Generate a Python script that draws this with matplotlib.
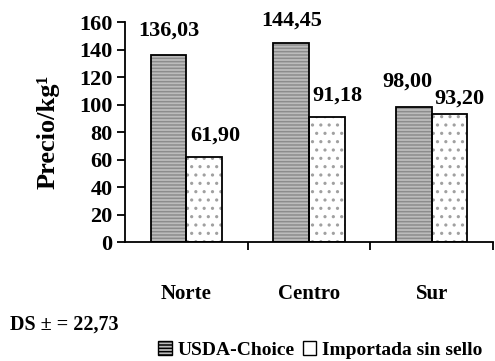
import numpy as np
import matplotlib.pyplot as plt
from matplotlib.patches import Patch

regions = ["Norte", "Centro", "Sur"]
usda_choice = [136.03, 144.45, 98.00]
importada = [61.90, 91.18, 93.20]
y_ticks = [0, 20, 40, 60, 80, 100, 120, 140, 160]
ds_text = "DS \u00b1 = 22,73"

plt.rcParams["font.family"] = ["Liberation Serif", "DejaVu Serif"]
plt.rcParams["font.weight"] = "bold"
plt.rcParams["hatch.linewidth"] = 1.1

USDA_FACE, USDA_HATCH = "#bcbcbc", "#8c8c8c"
IMP_FACE, IMP_HATCH = "white", "#a0a0a0"


def fmt(v):
    return f"{v:.2f}".replace(".", ",")


fig = plt.figure(figsize=(4.95, 3.61), dpi=100)
ax = fig.add_axes([0.2525, 0.3296, 0.7435, 0.6094])

x = np.arange(len(regions))
w = 0.29
# fill + hatch first, then a black outline on top
ax.bar(x - w / 2, usda_choice, w, color=USDA_FACE, edgecolor=USDA_HATCH,
       linewidth=0, hatch="-----")
ax.bar(x + w / 2, importada, w, color=IMP_FACE, edgecolor=IMP_HATCH,
       linewidth=0, hatch="..")
ax.bar(x - w / 2, usda_choice, w, fill=False, edgecolor="black", linewidth=1.3)
ax.bar(x + w / 2, importada, w, fill=False, edgecolor="black", linewidth=1.3)

# label nudges (points) to mimic the original placement
dx1 = [0, 0, -5]
dx2 = [8, 8, 7]
dy1 = [10, 9, 11]
dy2 = [8, 8, 4]
for i in range(len(regions)):
    ax.annotate(fmt(usda_choice[i]), (x[i] - w / 2, usda_choice[i]),
                xytext=(dx1[i], dy1[i]), textcoords="offset points",
                ha="center", va="bottom", fontsize=16, fontweight="bold")
    ax.annotate(fmt(importada[i]), (x[i] + w / 2, importada[i]),
                xytext=(dx2[i], dy2[i]), textcoords="offset points",
                ha="center", va="bottom", fontsize=16, fontweight="bold")

ax.set_xlim(-0.5, 2.5)
ax.set_ylim(0, 160)
ax.set_yticks(y_ticks)
ax.tick_params(axis="y", labelsize=16, direction="out", length=6, width=1.3,
               pad=3)
ax.set_xticks(x)
ax.set_xticklabels(regions, fontsize=15, fontweight="bold")
ax.tick_params(axis="x", which="major", length=0, pad=30)
ax.set_xticks([0.5, 1.5, 2.5], minor=True)
ax.tick_params(axis="x", which="minor", direction="out", length=6, width=1.3)
for s in ["top", "right"]:
    ax.spines[s].set_visible(False)
for s in ["left", "bottom"]:
    ax.spines[s].set_linewidth(1.3)

ax.set_ylabel("Precio/kg\u00b9", fontsize=19, fontweight="bold", labelpad=14)

fig.text(0.02, 0.10, ds_text, fontsize=14.5, fontweight="bold",
         ha="left", va="center")

handles = [Patch(facecolor=USDA_FACE, edgecolor="black", hatch="-----"),
           Patch(facecolor="white", edgecolor="black")]
fig.legend(handles, ["USDA-Choice", "Importada sin sello"],
           loc="center right", bbox_to_anchor=(1.01, 0.03), ncol=2,
           frameon=False, handlelength=0.7, handleheight=0.7,
           handletextpad=0.3, columnspacing=0.4,
           prop={"weight": "bold", "size": 14})

fig.savefig("out.png", dpi=100)
